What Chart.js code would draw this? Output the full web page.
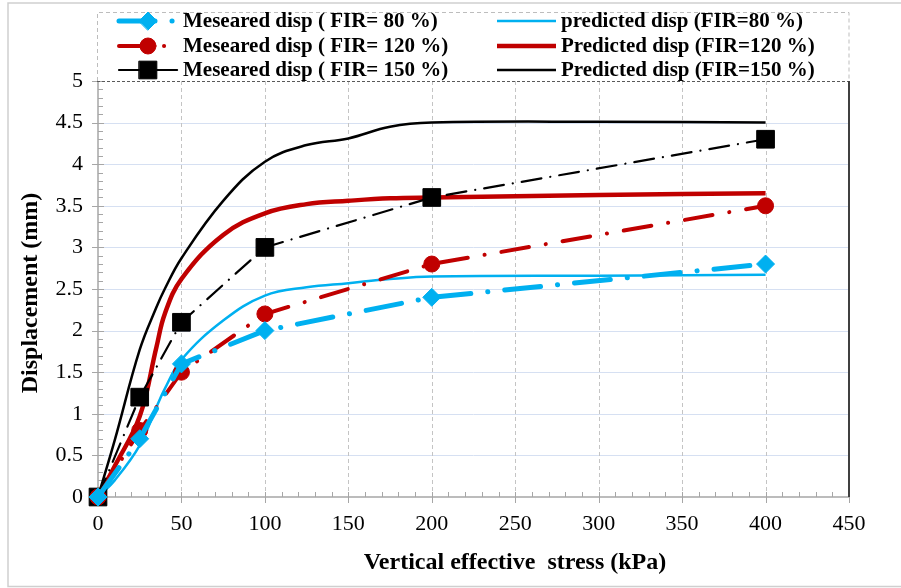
<!DOCTYPE html>
<html><head><meta charset="utf-8">
<script src="https://cdn.jsdelivr.net/npm/chart.js@4.4.1/dist/chart.umd.min.js"></script>
<style>html,body{margin:0;padding:0;background:#fff;} #wrap{width:901px;height:588px;position:relative;}</style>
</head><body><div id="wrap"><canvas id="c" width="901" height="588"></canvas></div>
<script>
// ---- data ----
const measuredStress = [0, 25, 50, 100, 200, 400];
const measured80  = [0, 0.7, 1.6, 2.0, 2.4, 2.8];
const measured120 = [0, 0.8, 1.5, 2.2, 2.8, 3.5];
const measured150 = [0, 1.2, 2.1, 3.0, 3.6, 4.3];
const predictedStress = [0, 10, 25, 35, 40, 50, 75, 100, 125, 150, 175, 200, 300, 400];
const predicted80  = [0, 0.2, 0.62, 1.08, 1.3, 1.65, 2.12, 2.42, 2.52, 2.57, 2.62, 2.65, 2.66, 2.67];
const predicted120 = [0, 0.37, 0.97, 1.8, 2.2, 2.62, 3.15, 3.41, 3.52, 3.56, 3.59, 3.6, 3.63, 3.65];
const predicted150 = [0, 0.68, 1.77, 2.28, 2.5, 2.87, 3.56, 4.03, 4.23, 4.31, 4.45, 4.5, 4.51, 4.5];
const xTickLabels = ['0','50','100','150','200','250','300','350','400','450'];
const yTickLabels = ['0','0.5','1','1.5','2','2.5','3','3.5','4','4.5','5'];
const seriesLabels = [
  'Meseared disp ( FIR= 80 %)', 'Meseared disp ( FIR= 120 %)', 'Meseared disp ( FIR= 150 %)',
  'predicted disp (FIR=80 %)', 'Predicted disp (FIR=120 %)', 'Predicted disp (FIR=150 %)'
];
const xTitle = 'Vertical effective  stress (kPa)';
const yTitle = 'Displacement (mm)';

const BLUE = '#00b0f0', RED = '#c00000', BLACK = '#000000';
const SERIF = '"Liberation Serif", "Times New Roman", serif';

function pts(xs, ys){ return xs.map((x,i)=>({x:x, y:ys[i]})); }

const datasets = [
  {label: seriesLabels[0], data: pts(measuredStress, measured80), borderColor: BLUE, backgroundColor: BLUE,
   borderWidth: 5, borderDash: [36,17,0.1,17], borderCapStyle: 'round', tension: 0,
   pointStyle: 'rectRot', pointRadius: 9, pointBackgroundColor: BLUE, pointBorderColor: BLUE, pointBorderWidth: 1, clip: false},
  {label: seriesLabels[1], data: pts(measuredStress, measured120), borderColor: RED, backgroundColor: RED,
   borderWidth: 4, borderDash: [28,17,0.1,17], borderCapStyle: 'round', tension: 0,
   pointStyle: 'circle', pointRadius: 8, pointBackgroundColor: RED, pointBorderColor: RED, pointBorderWidth: 1, clip: false},
  {label: seriesLabels[2], data: pts(measuredStress, measured150), borderColor: BLACK, backgroundColor: BLACK,
   borderWidth: 2.2, borderDash: [20,9,0.1,9], borderCapStyle: 'round', tension: 0,
   pointStyle: 'rect', pointRadius: 12.5, pointBackgroundColor: BLACK, pointBorderColor: BLACK, pointBorderWidth: 1, clip: false},
  {label: seriesLabels[3], data: pts(predictedStress, predicted80), borderColor: BLUE, backgroundColor: BLUE,
   borderWidth: 2.5, tension: 0.4, pointRadius: 0, clip: false},
  {label: seriesLabels[4], data: pts(predictedStress, predicted120), borderColor: RED, backgroundColor: RED,
   borderWidth: 4.5, tension: 0.4, pointRadius: 0, clip: false},
  {label: seriesLabels[5], data: pts(predictedStress, predicted150), borderColor: BLACK, backgroundColor: BLACK,
   borderWidth: 2.5, tension: 0.4, pointRadius: 0, clip: false}
];

const decorPlugin = {
  id: 'decor',
  beforeDatasetsDraw(chart){
    const ctx = chart.ctx, a = chart.chartArea;
    const xs = chart.scales.x, ys = chart.scales.y;
    ctx.save();
    ctx.strokeStyle = '#d6e0f2'; ctx.lineWidth = 1;
    for (let v = 0.5; v < 5; v += 0.5) {
      const y = Math.round(ys.getPixelForValue(v)) + 0.5;
      ctx.beginPath(); ctx.moveTo(a.left, y); ctx.lineTo(a.right, y); ctx.stroke();
    }
    ctx.strokeStyle = '#c4c4c4'; ctx.setLineDash([4,3]);
    for (let v = 50; v < 450; v += 50) {
      const x = Math.round(xs.getPixelForValue(v)) + 0.5;
      ctx.beginPath(); ctx.moveTo(x, a.top); ctx.lineTo(x, a.bottom); ctx.stroke();
    }
    ctx.setLineDash([]);
    ctx.strokeStyle = '#a6a6a6'; ctx.lineWidth = 1.5;
    ctx.beginPath(); ctx.moveTo(a.left, a.top); ctx.lineTo(a.left, a.bottom); ctx.lineTo(a.right, a.bottom); ctx.stroke();
    ctx.lineWidth = 1;
    for (let i = 0; i <= 50; i++) {
      const y = Math.round(ys.getPixelForValue(i/10)) + 0.5;
      ctx.beginPath();
      if (i % 5 === 0) { ctx.moveTo(a.left - 6, y); ctx.lineTo(a.left + 6, y); }
      else { ctx.moveTo(a.left, y); ctx.lineTo(a.left + 5, y); }
      ctx.stroke();
    }
    for (let i = 0; i <= 45; i++) {
      const x = Math.round(xs.getPixelForValue(i*10)) + 0.5;
      ctx.beginPath();
      if (i % 5 === 0) { ctx.moveTo(x, a.bottom - 5); ctx.lineTo(x, a.bottom + 6); }
      else { ctx.moveTo(x, a.bottom - 5); ctx.lineTo(x, a.bottom); }
      ctx.stroke();
    }
    ctx.strokeStyle = '#595959'; ctx.setLineDash([3,2]); ctx.lineWidth = 1.2;
    ctx.beginPath(); ctx.moveTo(a.left - 1, a.top + 0.5); ctx.lineTo(a.right, a.top + 0.5); ctx.stroke();
    ctx.setLineDash([]);
    ctx.strokeStyle = '#404040'; ctx.lineWidth = 2;
    ctx.beginPath(); ctx.moveTo(a.right, a.top); ctx.lineTo(a.right, a.bottom); ctx.stroke();
    ctx.restore();
  },
  afterDraw(chart){
    const ctx = chart.ctx, a = chart.chartArea;
    ctx.save();
    ctx.strokeStyle = '#cfcfcf'; ctx.lineWidth = 1.5;
    ctx.beginPath(); ctx.moveTo(905, 3); ctx.lineTo(8, 3); ctx.lineTo(8, 586.5); ctx.lineTo(905, 586.5); ctx.stroke();
    ctx.strokeStyle = '#bdbdbd'; ctx.lineWidth = 1; ctx.setLineDash([4,3]);
    ctx.beginPath(); ctx.moveTo(97.5, a.top); ctx.lineTo(97.5, 12.5); ctx.lineTo(a.right, 12.5); ctx.lineTo(a.right, a.top); ctx.stroke();
    ctx.setLineDash([]);
    const rows = [21, 46, 70];
    const cols = [{x0: 119, x1: 178, mx: 148, tx: 183}, {x0: 497, x1: 556, mx: null, tx: 561}];
    ctx.font = 'bold 21px ' + SERIF; ctx.textBaseline = 'middle'; ctx.textAlign = 'left';
    datasets.forEach((ds, i) => {
      const col = cols[Math.floor(i/3)], y = rows[i % 3];
      ctx.save();
      ctx.strokeStyle = ds.borderColor; ctx.lineWidth = ds.borderWidth;
      ctx.lineCap = ds.borderCapStyle || 'butt';
      ctx.setLineDash(ds.borderDash || []);
      ctx.beginPath(); ctx.moveTo(col.x0, y); ctx.lineTo(col.x1, y); ctx.stroke();
      ctx.setLineDash([]);
      if (ds.pointRadius > 0) {
        ctx.fillStyle = ds.pointBackgroundColor; ctx.strokeStyle = ds.pointBorderColor; ctx.lineWidth = 1;
        Chart.helpers.drawPoint(ctx, {pointStyle: ds.pointStyle, radius: ds.pointRadius, rotation: 0, borderWidth: 1}, col.mx, y);
      }
      ctx.restore();
      ctx.fillStyle = '#000';
      ctx.fillText(ds.label, col.tx, y + 1);
    });
    ctx.fillStyle = '#000'; ctx.textAlign = 'center'; ctx.textBaseline = 'middle';
    ctx.font = 'bold 24px ' + SERIF;
    ctx.fillText(xTitle, 515, 563);
    ctx.translate(31, 293); ctx.rotate(-Math.PI/2);
    ctx.fillText(yTitle, 0, 0);
    ctx.restore();
  }
};

new Chart(document.getElementById('c'), {
  type: 'line',
  data: { datasets },
  options: {
    responsive: false, animation: false, devicePixelRatio: 1,
    layout: { padding: { left: 0, right: 52, top: 81, bottom: 0 } },
    plugins: { legend: { display: false }, tooltip: { enabled: false } },
    scales: {
      x: {
        type: 'linear', min: 0, max: 450,
        afterFit(s){ s.height = 91; },
        grid: { display: false, drawTicks: false }, border: { display: false },
        ticks: { stepSize: 50, padding: 14, color: '#000', font: { family: SERIF, size: 22 },
          callback: (v) => xTickLabels[Math.round(v/50)] }
      },
      y: {
        type: 'linear', min: 0, max: 5,
        afterFit(s){ s.width = 98; },
        grid: { display: false, drawTicks: false }, border: { display: false },
        ticks: { stepSize: 0.5, padding: 15, color: '#000', font: { family: SERIF, size: 22 },
          callback: (v) => yTickLabels[Math.round(v*2)] }
      }
    }
  },
  plugins: [decorPlugin]
});
</script>
</body></html>
